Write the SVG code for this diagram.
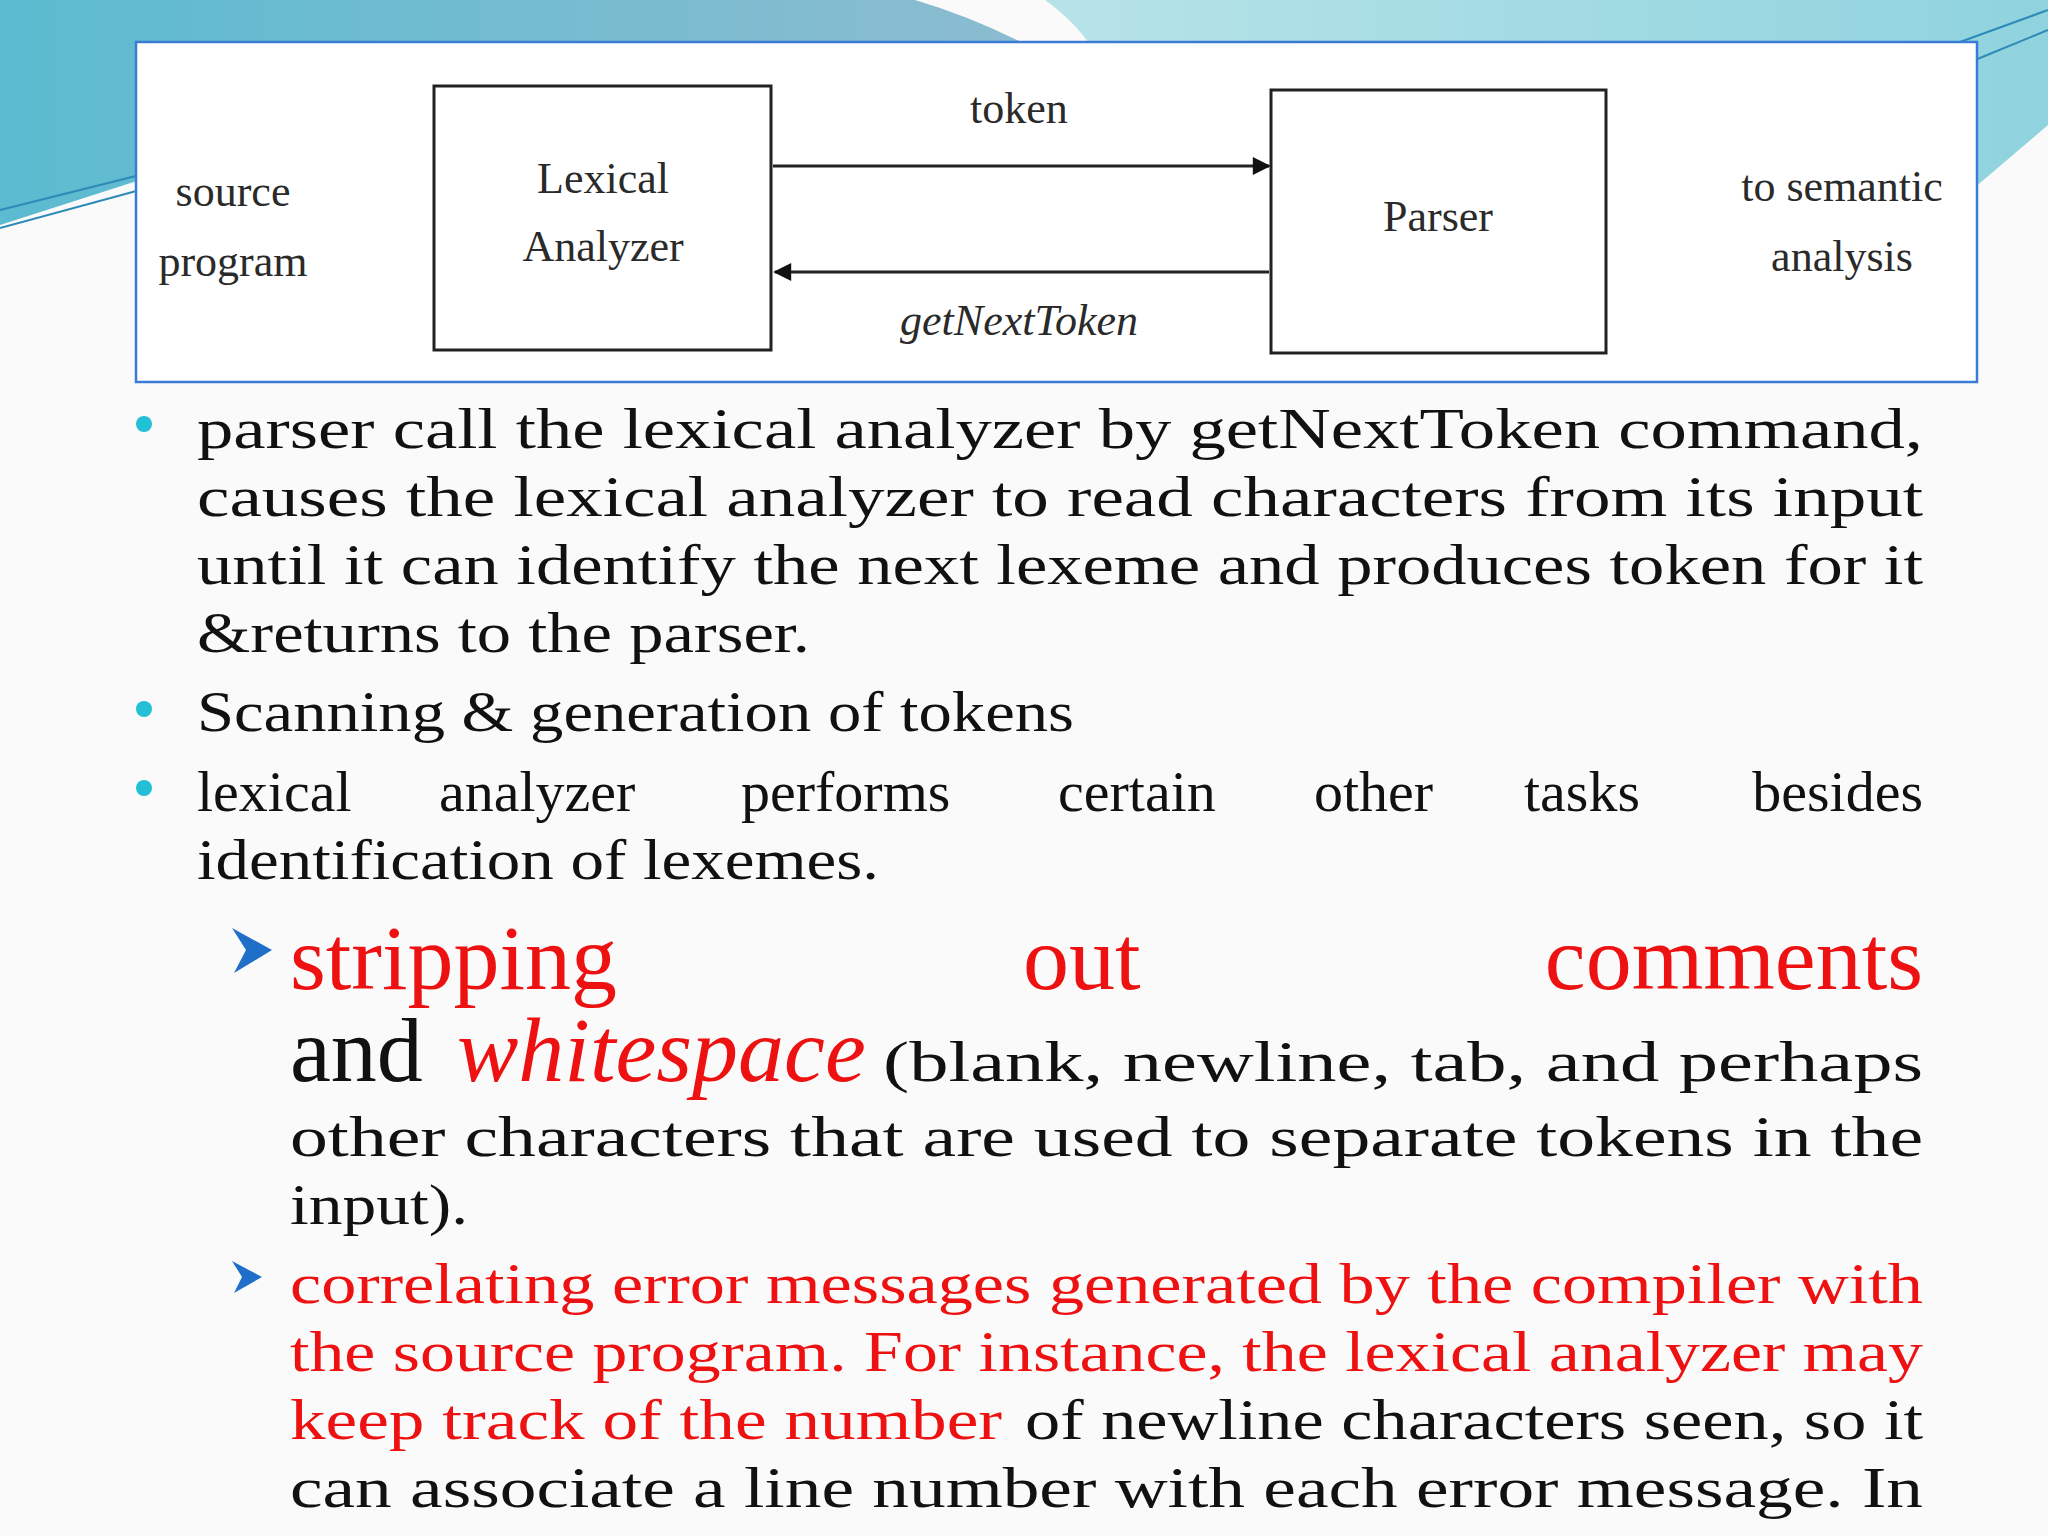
<svg xmlns="http://www.w3.org/2000/svg" width="2048" height="1536" viewBox="0 0 2048 1536">
<defs>
<linearGradient id="gL" x1="0" y1="0" x2="1" y2="0"><stop offset="0" stop-color="#5bbbd0"/><stop offset="1" stop-color="#8fbcd0"/></linearGradient>
<linearGradient id="gR" x1="0" y1="0" x2="1" y2="0"><stop offset="0" stop-color="#b7e3e8"/><stop offset="1" stop-color="#8fd3de"/></linearGradient>
<marker id="ah" viewBox="0 0 10 10" refX="9" refY="5" markerWidth="22" markerHeight="18" markerUnits="userSpaceOnUse" orient="auto"><path d="M0,0 L10,5 L0,10 z" fill="#111"/></marker>
<style>
.d{font-family:"Liberation Serif","Times New Roman",serif;fill:#2a2a2a;font-size:44px;text-anchor:middle}
.t{font-family:"Liberation Serif","Times New Roman",serif;font-size:58px;fill:#111}
.r{fill:#ee1111}
.big{font-size:92px}
.box{fill:#fff;stroke:#222;stroke-width:3}
.cn{stroke:#222;stroke-width:3;fill:none;marker-end:url(#ah)}
.dot{fill:#22bfd6}
.arw{fill:#1f6fc8}
</style>
</defs>
<rect width="2048" height="1536" fill="#fafafa"/>
<g id="background">
<path d="M0,0 L915,0 Q1000,25 1090,80 L140,180 L0,225 z" fill="url(#gL)"/>
<path d="M1045,0 L2048,0 L2048,125 L1960,200 L1100,60 Q1080,25 1045,0 z" fill="url(#gR)"/>
<path d="M1960,42 L2048,10 M1975,60 L2048,30" stroke="#2c8ab8" stroke-width="2"/>
<path d="M0,210 L140,175 M0,228 L140,190" stroke="#2c8ab8" stroke-width="2"/>
</g>
<g id="diagram">
<rect x="136" y="42" width="1841" height="340" fill="#fff" stroke="#3a7bd5" stroke-width="2.5"/>
<g id="lexical"><rect class="box" x="434" y="86" width="337" height="264"/><text class="d" x="603" y="193">Lexical</text><text class="d" x="603" y="261">Analyzer</text></g>
<g id="parser"><rect class="box" x="1271" y="90" width="335" height="263"/><text class="d" x="1438" y="231">Parser</text></g>
<g id="source"><text class="d" x="233" y="206">source</text><text class="d" x="233" y="276">program</text></g>
<g id="semantic"><text class="d" x="1842" y="201">to semantic</text><text class="d" x="1842" y="271">analysis</text></g>
<g id="connectors">
<line class="cn" x1="773" y1="166" x2="1269" y2="166"/>
<line class="cn" x1="1269" y1="272" x2="775" y2="272"/>
<text class="d" x="1019" y="123">token</text>
<text class="d" x="1019" y="335" font-style="italic">getNextToken</text>
</g>
</g>
<g id="text">
<circle class="dot" cx="144" cy="424" r="8"/>
<circle class="dot" cx="144" cy="709" r="8"/>
<circle class="dot" cx="144" cy="788" r="8"/>
<text class="t" x="197" y="448" textLength="1726" lengthAdjust="spacingAndGlyphs">parser call the lexical analyzer by getNextToken command,</text>
<text class="t" x="197" y="516" textLength="1726" lengthAdjust="spacingAndGlyphs">causes the lexical analyzer to read characters from its input</text>
<text class="t" x="197" y="584" textLength="1726" lengthAdjust="spacingAndGlyphs">until it can identify the next lexeme and produces token for it</text>
<text class="t" x="197" y="652" textLength="613" lengthAdjust="spacingAndGlyphs">&amp;returns to the parser.</text>
<text class="t" x="197" y="731" textLength="877" lengthAdjust="spacingAndGlyphs">Scanning &amp; generation of tokens</text>
<text class="t" y="811"><tspan x="197">lexical</tspan><tspan x="439">analyzer</tspan><tspan x="741">performs</tspan><tspan x="1058">certain</tspan><tspan x="1314">other</tspan><tspan x="1524">tasks</tspan></text>
<text class="t" x="1923" y="811" text-anchor="end">besides</text>
<text class="t" x="197" y="879" textLength="682" lengthAdjust="spacingAndGlyphs">identification of lexemes.</text>
<path class="arw" d="M232,928 L272,950 L234,973 L246,950 z"/>
<text class="t r big" x="290" y="989">stripping</text>
<text class="t r big" x="1023" y="989">out</text>
<text class="t r big" x="1923" y="989" text-anchor="end">comments</text>
<text class="t big" x="290" y="1081">and</text>
<text class="t r big" x="457" y="1081" font-style="italic">whitespace</text>
<text class="t" x="883" y="1081" textLength="1040" lengthAdjust="spacingAndGlyphs">(blank, newline, tab, and perhaps</text>
<text class="t" x="290" y="1156" textLength="1633" lengthAdjust="spacingAndGlyphs">other characters that are used to separate tokens in the</text>
<text class="t" x="290" y="1224" textLength="178" lengthAdjust="spacingAndGlyphs">input).</text>
<path class="arw" d="M232,1261 L262,1277 L234,1293 L242,1277 z"/>
<text class="t r" x="290" y="1303" textLength="1633" lengthAdjust="spacingAndGlyphs">correlating error messages generated by the compiler with</text>
<text class="t r" x="290" y="1371" textLength="1633" lengthAdjust="spacingAndGlyphs">the source program. For instance, the lexical analyzer may</text>
<text class="t r" x="290" y="1439" textLength="712" lengthAdjust="spacingAndGlyphs">keep track of the number</text>
<text class="t" x="1025" y="1439" textLength="898" lengthAdjust="spacingAndGlyphs">of newline characters seen, so it</text>
<text class="t" x="290" y="1507" textLength="1633" lengthAdjust="spacingAndGlyphs">can associate a line number with each error message. In</text>
</g>
</svg>
